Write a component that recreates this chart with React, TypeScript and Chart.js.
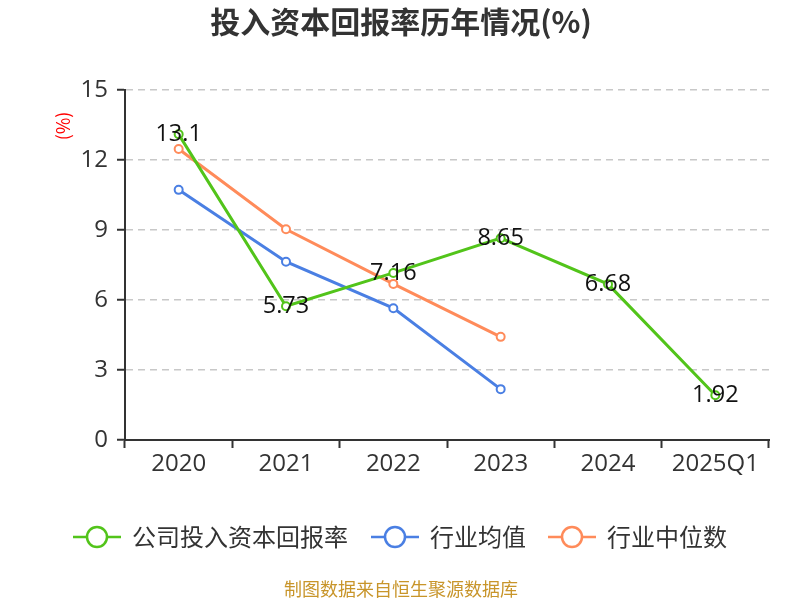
import React, { useEffect, useRef } from "react";
import { Chart, registerables } from "chart.js";

Chart.register(...registerables);

const categories = ["2020", "2021", "2022", "2023", "2024", "2025Q1"];
const companyValues = [13.1, 5.73, 7.16, 8.65, 6.68, 1.92];
const industryAvg = [10.72, 7.64, 5.65, 2.18, null, null];
const industryMedian = [12.47, 9.03, 6.69, 4.42, null, null];
const seriesNames = ["公司投入资本回报率", "行业均值", "行业中位数"];
const yTicks = [0, 3, 6, 9, 12, 15];
const titleText = "投入资本回报率历年情况(%)";
const unitText = "(%)";
const sourceText = "制图数据来自恒生聚源数据库";

const GREEN = "#52c41a";
const BLUE = "#4a7fe3";
const ORANGE = "#ff8b5a";
const CJK = '"Noto Sans CJK SC", "Open Sans", sans-serif';
const NUM = '"Open Sans", "Noto Sans", sans-serif';

const decorPlugin = {
  id: "decor",
  afterDatasetsDraw(chart: any) {
    const ctx = chart.ctx;
    const meta = chart.getDatasetMeta(0);
    ctx.save();
    ctx.font = `23.5px ${NUM}`;
    ctx.fillStyle = "#111";
    ctx.textAlign = "center";
    ctx.textBaseline = "middle";
    meta.data.forEach((el: any, i: number) => {
      const v = companyValues[i];
      if (v == null) return;
      ctx.fillText(String(v), el.x, el.y);
    });
    ctx.restore();
  },
  afterDraw(chart: any) {
    const ctx = chart.ctx;
    ctx.save();
    // title
    ctx.font = `bold 30px ${CJK}`;
    ctx.fillStyle = "#333";
    ctx.textAlign = "center";
    ctx.textBaseline = "middle";
    ctx.fillText(titleText, 401, 22);
    // unit
    ctx.save();
    ctx.translate(63, 126);
    ctx.rotate(-Math.PI / 2);
    ctx.font = `18px ${CJK}`;
    ctx.fillStyle = "#ff0000";
    ctx.fillText(unitText, 0, 0);
    ctx.restore();
    // legend
    const items = [
      { x: 73, color: GREEN, name: seriesNames[0] },
      { x: 371, color: BLUE, name: seriesNames[1] },
      { x: 548, color: ORANGE, name: seriesNames[2] },
    ];
    const ly = 537;
    items.forEach((it) => {
      ctx.strokeStyle = it.color;
      ctx.lineWidth = 2.5;
      ctx.beginPath();
      ctx.moveTo(it.x, ly);
      ctx.lineTo(it.x + 48, ly);
      ctx.stroke();
      ctx.beginPath();
      ctx.arc(it.x + 24, ly, 10, 0, Math.PI * 2);
      ctx.fillStyle = "#fff";
      ctx.fill();
      ctx.stroke();
      ctx.font = `24px ${CJK}`;
      ctx.fillStyle = "#333";
      ctx.textAlign = "left";
      ctx.textBaseline = "middle";
      ctx.fillText(it.name, it.x + 59, ly);
    });
    // source
    ctx.font = `18px ${CJK}`;
    ctx.fillStyle = "#c8952a";
    ctx.textAlign = "center";
    ctx.fillText(sourceText, 401, 589);
    ctx.restore();
  },
};

export default function App() {
  const ref = useRef<HTMLCanvasElement>(null);
  useEffect(() => {
    document.body.style.margin = "0";
    const mk = (label: string, data: any[], color: string) => ({
      label,
      data,
      borderColor: color,
      backgroundColor: "#fff",
      borderWidth: 3,
      pointRadius: 4,
      pointBorderWidth: 2,
      pointBackgroundColor: "#fff",
      pointBorderColor: color,
      tension: 0,
      spanGaps: false,
    });
    const chart = new Chart(ref.current!, {
      type: "line",
      data: {
        labels: categories,
        datasets: [
          mk(seriesNames[0], companyValues, GREEN),
          mk(seriesNames[1], industryAvg, BLUE),
          mk(seriesNames[2], industryMedian, ORANGE),
        ],
      },
      options: {
        animation: false,
        responsive: false,
        devicePixelRatio: 1,
        layout: { padding: { left: 0, right: 31, top: 90, bottom: 0 } },
        plugins: {
          legend: { display: false },
          title: { display: false },
          tooltip: { enabled: false },
        },
        scales: {
          x: {
            type: "category",
            offset: true,
            grid: {
              offset: true,
              drawOnChartArea: false,
              drawTicks: true,
              tickLength: 8,
              tickColor: "#333",
              tickWidth: 2,
            },
            border: { display: true, color: "#333", width: 2 },
            ticks: {
              color: "#333",
              font: { size: 24, family: NUM },
              padding: 2,
              maxRotation: 0,
              autoSkip: false,
            },
            afterFit: (s: any) => {
              s.height = 160;
            },
          },
          y: {
            min: 0,
            max: 15,
            afterBuildTicks: (s: any) => {
              s.ticks = yTicks.map((v) => ({ value: v }));
            },
            grid: {
              color: (c: any) => (c.tick && c.tick.value === 0 ? "rgba(0,0,0,0)" : "#c8c8c8"),
              lineWidth: 1.5,
              drawTicks: true,
              tickLength: 8,
              tickColor: "#333",
              tickWidth: 2,
              tickBorderDash: [],
            },
            border: { display: true, color: "#333", width: 2, dash: [7, 5] },
            ticks: {
              color: "#333",
              font: { size: 24, family: NUM },
              padding: 9,
            },
            afterFit: (s: any) => {
              s.width = 125;
            },
          },
        },
      },
      plugins: [decorPlugin],
    });
    return () => chart.destroy();
  }, []);
  return <canvas ref={ref} width={800} height={600} style={{ display: "block" }} />;
}
